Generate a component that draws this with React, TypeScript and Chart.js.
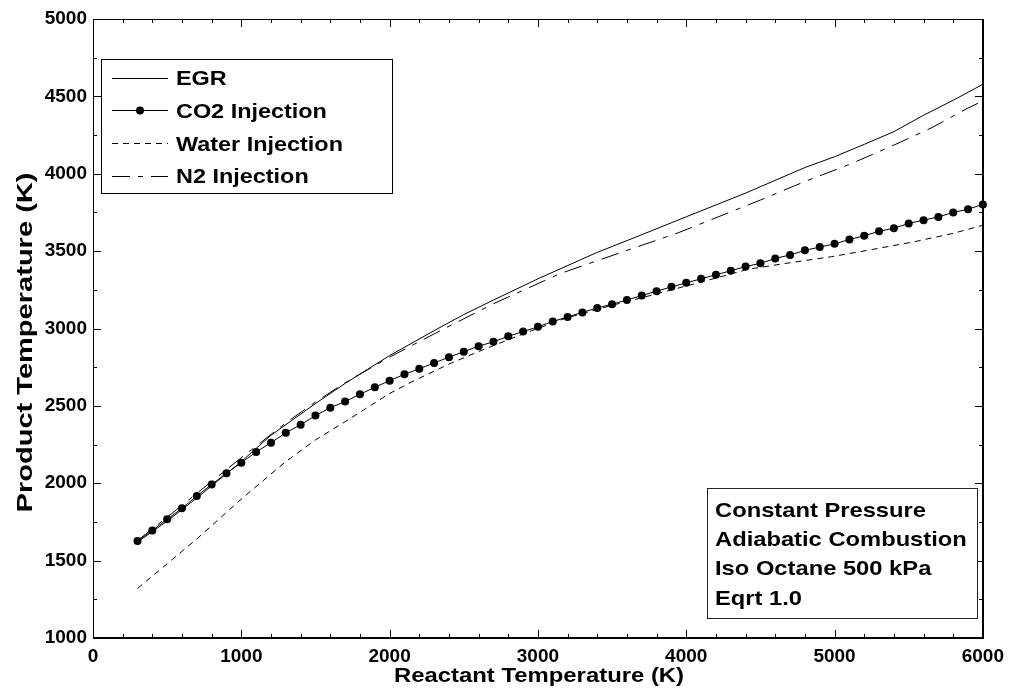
import React, { useEffect, useRef } from 'react';
import { Chart, registerables } from 'chart.js';

Chart.register(...registerables);

// ---- data ----
const egrX = [300, 500, 700, 1000, 1200, 1500, 1700, 2000, 2300, 2500, 2700, 3000, 3400, 3700, 4000, 4400, 4800, 5000, 5200, 5400, 5600, 5800, 6000];
const egrY = [1620, 1755, 1905, 2140, 2310, 2515, 2645, 2825, 2986, 3090, 3184, 3321, 3492, 3606, 3722, 3875, 4040, 4110, 4190, 4272, 4378, 4475, 4578];

const co2X = [300, 400, 500, 600, 700, 800, 900, 1000, 1100, 1200, 1300, 1400, 1500, 1600, 1700, 1800, 1900, 2000, 2100, 2200, 2300, 2400, 2500, 2600, 2700, 2800, 2900, 3000, 3100, 3200, 3300, 3400, 3500, 3600, 3700, 3800, 3900, 4000, 4100, 4200, 4300, 4400, 4500, 4600, 4700, 4800, 4900, 5000, 5100, 5200, 5300, 5400, 5500, 5600, 5700, 5800, 5900, 6000];
const co2Y = [1627, 1695, 1767, 1838, 1918, 1992, 2065, 2133, 2202, 2262, 2326, 2378, 2437, 2488, 2528, 2575, 2620, 2663, 2704, 2740, 2777, 2815, 2850, 2886, 2914, 2950, 2980, 3011, 3045, 3075, 3104, 3133, 3157, 3184, 3213, 3241, 3269, 3295, 3321, 3347, 3373, 3400, 3421, 3453, 3475, 3505, 3526, 3547, 3575, 3599, 3628, 3648, 3679, 3700, 3721, 3750, 3771, 3802];

const waterX = [300, 500, 700, 1000, 1300, 1500, 1700, 2000, 2130, 2400, 2625, 2900, 3186, 3500, 3769, 4100, 4419, 4700, 4980, 5250, 5540, 5800, 6000];
const waterY = [1320, 1480, 1640, 1898, 2140, 2280, 2398, 2580, 2646, 2770, 2861, 2965, 3066, 3150, 3216, 3300, 3383, 3425, 3464, 3510, 3561, 3615, 3667];

const n2X = [300, 500, 700, 1000, 1300, 1500, 1700, 2000, 2350, 2700, 3150, 3550, 3950, 4500, 4800, 5100, 5400, 5650, 5900, 6000];
const n2Y = [1630, 1780, 1935, 2165, 2390, 2525, 2650, 2815, 2990, 3160, 3355, 3488, 3620, 3830, 3950, 4060, 4185, 4295, 4425, 4470];

const legendLabels = ['EGR', 'CO2 Injection', 'Water Injection', 'N2 Injection'];
const noteLines = ['Constant Pressure', 'Adiabatic Combustion', 'Iso Octane 500 kPa', 'Eqrt 1.0'];
const xTitle = 'Reactant Temperature (K)';
const yTitle = 'Product Temperature (K)';

const xMajorTicks = [0, 1000, 2000, 3000, 4000, 5000, 6000];
const yMajorTicks = [1000, 1500, 2000, 2500, 3000, 3500, 4000, 4500, 5000];
const xMinorStep = 200;
const yMinorStep = 250;

const FONT = '"Liberation Sans", Arial, Helvetica, sans-serif';
const WATER_DASH = [6, 5];
const N2_DASH = [18, 8, 5, 8];

function pts(xs: number[], ys: number[]) {
  return xs.map((x, i) => ({ x, y: ys[i] }));
}

function drawScaledText(ctx: CanvasRenderingContext2D, text: string, x: number, y: number, sx: number, align: CanvasTextAlign) {
  ctx.save();
  ctx.translate(x, y);
  ctx.scale(sx, 1);
  ctx.textAlign = align;
  ctx.textBaseline = 'alphabetic';
  ctx.fillText(text, 0, 0);
  ctx.restore();
}

const decorPlugin = {
  id: 'decor',
  afterDraw(chart: any) {
    const ctx: CanvasRenderingContext2D = chart.ctx;
    const xs = chart.scales.x;
    const ys = chart.scales.y;
    const L = Math.round(xs.getPixelForValue(0));
    const R = Math.round(xs.getPixelForValue(6000));
    const T = Math.round(ys.getPixelForValue(5000));
    const B = Math.round(ys.getPixelForValue(1000));
    ctx.save();
    ctx.strokeStyle = '#000';
    ctx.fillStyle = '#000';

    // frame
    ctx.lineWidth = 1;
    ctx.beginPath();
    ctx.moveTo(L + 0.5, B);
    ctx.lineTo(L + 0.5, T + 0.5);
    ctx.lineTo(R, T + 0.5);
    ctx.stroke();
    ctx.lineWidth = 2;
    ctx.beginPath();
    ctx.moveTo(L, B);
    ctx.lineTo(R, B);
    ctx.moveTo(R, B + 1);
    ctx.lineTo(R, T);
    ctx.stroke();

    // ticks (inward, all four sides)
    ctx.lineWidth = 1;
    ctx.beginPath();
    for (let v = 0; v <= 6000; v += xMinorStep) {
      const major = xMajorTicks.includes(v);
      const len = major ? 8 : 4;
      const px = Math.round(xs.getPixelForValue(v)) + 0.5;
      ctx.moveTo(px, B);
      ctx.lineTo(px, B - len);
      ctx.moveTo(px, T);
      ctx.lineTo(px, T + len);
    }
    for (let v = 1000; v <= 5000; v += yMinorStep) {
      const major = yMajorTicks.includes(v);
      const len = major ? 8 : 4;
      const py = Math.round(ys.getPixelForValue(v)) + 0.5;
      ctx.moveTo(L, py);
      ctx.lineTo(L + len, py);
      ctx.moveTo(R, py);
      ctx.lineTo(R - len, py);
    }
    ctx.stroke();

    // axis titles
    ctx.font = `bold 21px ${FONT}`;
    drawScaledText(ctx, xTitle, (L + R) / 2 + 1, 681.5, 1.137, 'center');
    ctx.save();
    ctx.translate(32, (T + B) / 2 + 14);
    ctx.rotate(-Math.PI / 2);
    ctx.font = `bold 22px ${FONT}`;
    drawScaledText(ctx, yTitle, 0, 0, 1.32, 'center');
    ctx.restore();

    // legend box
    const lx0 = 101, ly0 = 59, lx1 = 392, ly1 = 193;
    ctx.fillStyle = '#fff';
    ctx.fillRect(lx0, ly0, lx1 - lx0, ly1 - ly0);
    ctx.strokeStyle = '#000';
    ctx.lineWidth = 1;
    ctx.strokeRect(lx0 + 0.5, ly0 + 0.5, lx1 - lx0, ly1 - ly0);
    const baselines = [85, 117.5, 150.5, 183.3];
    const dashes = [[], [], WATER_DASH, N2_DASH];
    ctx.font = `bold 21px ${FONT}`;
    legendLabels.forEach((lab, i) => {
      const yb = baselines[i];
      const yl = Math.round(yb - 7.5) + 0.5;
      ctx.save();
      ctx.strokeStyle = '#000';
      ctx.lineWidth = 1;
      ctx.setLineDash(dashes[i]);
      ctx.beginPath();
      ctx.moveTo(112, yl);
      ctx.lineTo(168, yl);
      ctx.stroke();
      ctx.restore();
      if (i === 1) {
        ctx.fillStyle = '#000';
        ctx.beginPath();
        ctx.arc(140, yl, 4, 0, Math.PI * 2);
        ctx.fill();
      }
      ctx.fillStyle = '#000';
      drawScaledText(ctx, lab, 176, yb, 1.115, 'left');
    });

    // annotation box
    const bx0 = 707, by0 = 488, bx1 = 977, by1 = 618;
    ctx.fillStyle = '#fff';
    ctx.fillRect(bx0, by0, bx1 - bx0, by1 - by0);
    ctx.strokeStyle = '#222';
    ctx.lineWidth = 1;
    ctx.strokeRect(bx0 + 0.5, by0 + 0.5, bx1 - bx0, by1 - by0);
    ctx.fillStyle = '#000';
    const nb = [516.7, 546, 575.3, 604.6];
    noteLines.forEach((t, i) => drawScaledText(ctx, t, 715, nb[i], 1.13, 'left'));

    ctx.restore();
  },
};

export default function App() {
  const ref = useRef<HTMLCanvasElement | null>(null);
  useEffect(() => {
    if (!ref.current) return;
    const common = { borderColor: '#000', borderWidth: 1, tension: 0, fill: false, clip: 6 };
    const chart = new Chart(ref.current, {
      type: 'line',
      data: {
        datasets: [
          { ...common, label: legendLabels[0], data: pts(egrX, egrY), pointRadius: 0 },
          { ...common, label: legendLabels[1], data: pts(co2X, co2Y), pointRadius: 4, pointBackgroundColor: '#000', pointBorderWidth: 0, pointHoverRadius: 4 },
          { ...common, label: legendLabels[2], data: pts(waterX, waterY), pointRadius: 0, borderDash: WATER_DASH },
          { ...common, label: legendLabels[3], data: pts(n2X, n2Y), pointRadius: 0, borderDash: N2_DASH },
        ] as any,
      },
      options: {
        animation: false,
        responsive: false,
        events: [],
        layout: { padding: { left: 0, top: 19, right: 26, bottom: 0 } },
        plugins: { legend: { display: false }, tooltip: { enabled: false }, title: { display: false } },
        scales: {
          x: {
            type: 'linear',
            min: 0,
            max: 6000,
            afterFit: (s: any) => { s.height = 54; },
            afterBuildTicks: (s: any) => { s.ticks = xMajorTicks.map((v) => ({ value: v })); },
            grid: { display: false, drawTicks: false },
            border: { display: false },
            ticks: { color: '#000', padding: 7, maxRotation: 0, callback: (v: any) => String(v), font: { family: FONT, size: 19, weight: 'bold' } },
          },
          y: {
            type: 'linear',
            min: 1000,
            max: 5000,
            afterFit: (s: any) => { s.width = 93; },
            afterBuildTicks: (s: any) => { s.ticks = yMajorTicks.map((v) => ({ value: v })); },
            grid: { display: false, drawTicks: false },
            border: { display: false },
            ticks: { color: '#000', padding: 6, callback: (v: any) => String(v), font: { family: FONT, size: 19, weight: 'bold' } },
          },
        },
      } as any,
      plugins: [decorPlugin],
    });
    return () => chart.destroy();
  }, []);
  return (
    <div style={{ position: 'fixed', left: 0, top: 0, width: 1011, height: 692, background: '#fff' }}>
      <canvas ref={ref} width={1011} height={692} style={{ display: 'block' }} />
    </div>
  );
}
